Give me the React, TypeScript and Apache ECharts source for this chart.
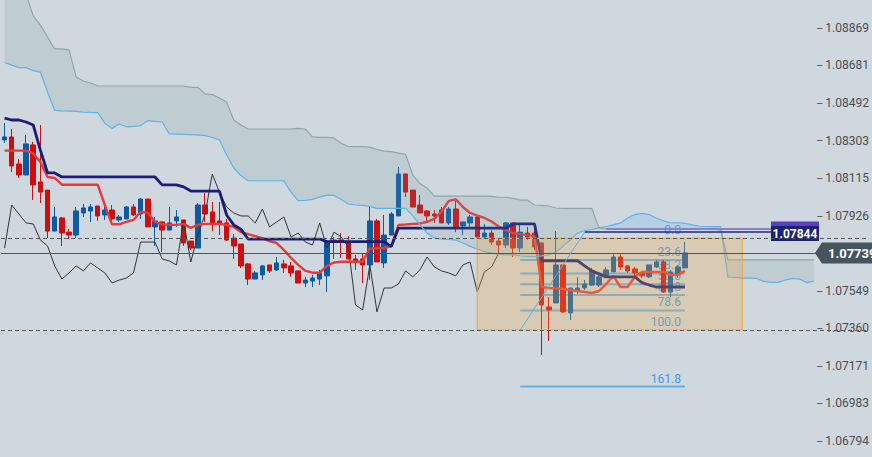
import React, { useEffect, useRef } from "react";
import * as echarts from "echarts";

const OPEN = [
  1.08307, 1.08322, 1.08186, 1.08131, 1.08282, 1.08096, 1.08055, 1.07849, 1.07915, 1.07844,
  1.07829, 1.0794, 1.0795, 1.07975, 1.0793, 1.07955, 1.07905, 1.0791, 1.0797, 1.07935,
  1.0801, 1.0787, 1.07895, 1.07854, 1.079, 1.07905, 1.07799, 1.07764, 1.0798, 1.07945,
  1.079, 1.0789, 1.07814, 1.07784, 1.07684, 1.07608, 1.07629, 1.07679, 1.07654, 1.07684,
  1.07674, 1.07649, 1.07588, 1.07598, 1.07608, 1.07624, 1.07804, 1.07804, 1.07789, 1.07709,
  1.07709, 1.07679, 1.079, 1.07689, 1.07829, 1.07925, 1.08136, 1.08055, 1.0798, 1.0795,
  1.07935, 1.07955, 1.0789, 1.0796, 1.07875, 1.0789, 1.0792, 1.07819, 1.07839, 1.07799,
  1.07779, 1.0789, 1.07764, 1.07839, 1.07839, 1.07789, 1.07468, 1.07488, 1.07679, 1.07438,
  1.07548, 1.07563, 1.07578, 1.07578, 1.07619, 1.07644, 1.07719, 1.07674, 1.07659, 1.07639,
  1.07619, 1.07669, 1.07694, 1.07543, 1.07629, 1.07664,
];
const CLOSE = [
  1.08322, 1.08176, 1.08131, 1.08287, 1.08081, 1.08045, 1.07849, 1.0792, 1.07839, 1.07829,
  1.0795, 1.07965, 1.0797, 1.07925, 1.07955, 1.0791, 1.0792, 1.0797, 1.0793, 1.0801,
  1.0787, 1.079, 1.07854, 1.0789, 1.0792, 1.07789, 1.07764, 1.0798, 1.07935, 1.0789,
  1.07885, 1.07804, 1.07774, 1.07674, 1.07608, 1.07639, 1.07674, 1.07649, 1.07689, 1.07664,
  1.07639, 1.07588, 1.07603, 1.07613, 1.07639, 1.07794, 1.07794, 1.07794, 1.07709, 1.07699,
  1.07679, 1.079, 1.07694, 1.07829, 1.07935, 1.08136, 1.08045, 1.0797, 1.0794, 1.07925,
  1.07925, 1.0789, 1.0796, 1.0787, 1.07895, 1.0792, 1.07819, 1.07839, 1.07794, 1.07779,
  1.0789, 1.07764, 1.07844, 1.07819, 1.07769, 1.07478, 1.07453, 1.07679, 1.07443, 1.07563,
  1.07563, 1.07583, 1.07649, 1.07619, 1.07654, 1.07719, 1.07669, 1.07649, 1.07639, 1.07624,
  1.07679, 1.07694, 1.07543, 1.07644, 1.07669, 1.07739,
];
const LOW = [
  1.08292, 1.08146, 1.08116, 1.08131, 1.08005, 1.0799, 1.07814, 1.07849, 1.07774, 1.07809,
  1.07814, 1.0792, 1.07895, 1.079, 1.07905, 1.0789, 1.07895, 1.0791, 1.07925, 1.0791,
  1.0787, 1.07774, 1.07744, 1.07854, 1.0787, 1.07774, 1.07754, 1.07764, 1.07895, 1.07849,
  1.07829, 1.07799, 1.07709, 1.07664, 1.07578, 1.07608, 1.07603, 1.07639, 1.07649, 1.07639,
  1.07619, 1.07588, 1.07568, 1.07568, 1.07578, 1.07543, 1.07709, 1.07714, 1.07709, 1.07654,
  1.07588, 1.07603, 1.07694, 1.07664, 1.07829, 1.07925, 1.0802, 1.0797, 1.0794, 1.079,
  1.0789, 1.0789, 1.0788, 1.07844, 1.07829, 1.0787, 1.07819, 1.07814, 1.07779, 1.07729,
  1.07764, 1.07719, 1.07744, 1.07804, 1.07754, 1.07227, 1.07297, 1.07488, 1.07438, 1.07402,
  1.07533, 1.07553, 1.07573, 1.07568, 1.07613, 1.07644, 1.07654, 1.07639, 1.07624, 1.07613,
  1.07613, 1.07664, 1.07538, 1.07518, 1.07613, 1.07664,
];
const HIGH = [
  1.08392, 1.08362, 1.08211, 1.08332, 1.08297, 1.08382, 1.08055, 1.0797, 1.0792, 1.07859,
  1.0797, 1.07985, 1.07985, 1.07975, 1.0798, 1.0798, 1.0793, 1.07975, 1.07985, 1.08015,
  1.0801, 1.0792, 1.07895, 1.0797, 1.07955, 1.07905, 1.07799, 1.0799, 1.0804, 1.07995,
  1.07995, 1.0791, 1.07834, 1.07784, 1.07689, 1.07649, 1.07679, 1.07679, 1.07719, 1.07704,
  1.07694, 1.07649, 1.07619, 1.07629, 1.07654, 1.07804, 1.07819, 1.07839, 1.07824, 1.07729,
  1.07734, 1.0797, 1.0791, 1.0793, 1.07945, 1.08171, 1.08136, 1.08055, 1.0803, 1.07955,
  1.07955, 1.0797, 1.0797, 1.08005, 1.07895, 1.0793, 1.0792, 1.07885, 1.07854, 1.07814,
  1.07895, 1.0789, 1.0789, 1.0787, 1.07865, 1.07794, 1.07518, 1.07849, 1.07679, 1.07563,
  1.07619, 1.07603, 1.07664, 1.07629, 1.07669, 1.07734, 1.07734, 1.07679, 1.07669, 1.07644,
  1.07679, 1.07704, 1.07704, 1.07654, 1.07679, 1.07794,
];
const TENKAN = [
  1.08253, 1.08253, 1.08253, 1.08253, 1.08239, 1.08196, 1.08121, 1.08116, 1.08082, 1.08082,
  1.08082, 1.08082, 1.08082, 1.08082, 1.0798, 1.07883, 1.07883, 1.07895, 1.07905, 1.07946,
  1.0794, 1.07895, 1.07883, 1.0788, 1.0788, 1.07885, 1.07865, 1.0788, 1.07885, 1.07885,
  1.07885, 1.0788, 1.0787, 1.07844, 1.07834, 1.07824, 1.07814, 1.07799, 1.07789, 1.07754,
  1.07714, 1.07679, 1.07649, 1.0764, 1.0764, 1.07674, 1.07691, 1.07695, 1.07695, 1.07695,
  1.07695, 1.07762, 1.07762, 1.07764, 1.07774, 1.0788, 1.07882, 1.07885, 1.07887, 1.07895,
  1.0791, 1.07945, 1.08, 1.08008, 1.0797, 1.0794, 1.07927, 1.07915, 1.07897, 1.07872,
  1.07854, 1.07839, 1.07834, 1.07829, 1.07824, 1.07568, 1.07563, 1.07561, 1.07558, 1.07553,
  1.07548, 1.07543, 1.07538, 1.07548, 1.07583, 1.07624, 1.07568, 1.07568, 1.07619, 1.07644,
  1.07644, 1.07644, 1.07644, 1.07629, 1.07629, 1.07649,
];
const KIJUN = [
  1.08417, 1.08407, 1.08407, 1.08397, 1.08382, 1.08256, 1.08141, 1.08141, 1.08121, 1.08121,
  1.08121, 1.08121, 1.08121, 1.08121, 1.08121, 1.08121, 1.08121, 1.08121, 1.08121, 1.08121,
  1.08121, 1.08121, 1.08081, 1.08081, 1.08081, 1.08071, 1.0805, 1.0805, 1.0805, 1.0805,
  1.0805, 1.0793, 1.0788, 1.07859, 1.07809, 1.07809, 1.07809, 1.07809, 1.07809, 1.07809,
  1.07809, 1.07809, 1.07809, 1.07809, 1.07809, 1.07796, 1.07796, 1.07796, 1.07796, 1.07796,
  1.07796, 1.07796, 1.07796, 1.07796, 1.07771, 1.07864, 1.07864, 1.07864, 1.07864, 1.07864,
  1.07864, 1.07864, 1.07864, 1.07864, 1.07864, 1.07864, 1.07864, 1.07864, 1.07864, 1.07864,
  1.07864, 1.07885, 1.07885, 1.07885, 1.07885, 1.077, 1.077, 1.077, 1.077, 1.077,
  1.077, 1.07674, 1.07649, 1.07634, 1.07619, 1.07619, 1.07619, 1.07619, 1.07619, 1.0759,
  1.07578, 1.07568, 1.07568, 1.07568, 1.07568, 1.07568,
];
const SPAN_A = [
  1.08696, 1.08683, 1.0867, 1.0867, 1.08655, 1.08648, 1.08548, 1.08455, 1.08453, 1.08452,
  1.0845, 1.08447, 1.08445, 1.08444, 1.08391, 1.08365, 1.08387, 1.08373, 1.08375, 1.08379,
  1.08404, 1.084, 1.08397, 1.08337, 1.08336, 1.08335, 1.08334, 1.08332, 1.08329, 1.08319,
  1.08307, 1.08231, 1.08166, 1.08128, 1.08102, 1.08102, 1.08102, 1.08102, 1.08102, 1.08101,
  1.08045, 1.08002, 1.08003, 1.08008, 1.0802, 1.0803, 1.08028, 1.08008, 1.07985, 1.0798,
  1.07978, 1.07973, 1.07963, 1.07963, 1.07963, 1.07963, 1.07963, 1.07925, 1.0788, 1.07839,
  1.07814, 1.07809, 1.07807, 1.07804, 1.07789, 1.07772, 1.07759, 1.07746, 1.07739, 1.07732,
  1.07729, 1.07729, 1.07724, 1.07721, 1.07721, 1.07724, 1.07729, 1.07744, 1.07774, 1.07804,
  1.07839, 1.07852, 1.07857, 1.07865, 1.07872, 1.0788, 1.0789, 1.07915, 1.07932, 1.07938,
  1.07932, 1.07915, 1.079, 1.07891, 1.07891, 1.07888, 1.0788, 1.07873, 1.07872, 1.07871,
  1.07871, 1.07618, 1.07616, 1.07613, 1.07613, 1.07611, 1.07596, 1.07591, 1.07591, 1.07603,
  1.07611, 1.07608, 1.0759, 1.07598,
];
const SPAN_B = [
  1.09311, 1.09236, 1.09151, 1.0904, 1.0893, 1.08884, 1.08824, 1.08764, 1.08764, 1.08759,
  1.08623, 1.08603, 1.08593, 1.08578, 1.08578, 1.08578, 1.08578, 1.08578, 1.08578, 1.08578,
  1.08578, 1.08578, 1.08578, 1.08578, 1.08578, 1.08578, 1.08571, 1.08571, 1.08538, 1.08535,
  1.08518, 1.08498, 1.08407, 1.08382, 1.08362, 1.08362, 1.08362, 1.08362, 1.08362, 1.08362,
  1.08362, 1.08365, 1.08362, 1.08322, 1.0832, 1.0832, 1.08317, 1.0829, 1.08274, 1.08273,
  1.08273, 1.08271, 1.08259, 1.08251, 1.08248, 1.08241, 1.08234, 1.08131, 1.08088, 1.08065,
  1.08025, 1.08025, 1.08025, 1.08025, 1.08025, 1.08025, 1.08025, 1.08025, 1.08023, 1.08019,
  1.08019, 1.08013, 1.08005, 1.08005, 1.0798, 1.07978, 1.07975, 1.07965, 1.07963, 1.07963,
  1.07963, 1.07963, 1.07963, 1.07863, 1.0786, 1.0786, 1.0786, 1.0786, 1.0786, 1.0786,
  1.0786, 1.0786, 1.0786, 1.0786, 1.0786, 1.0786, 1.0786, 1.0786, 1.0786, 1.0786,
  1.07854, 1.07704, 1.07704, 1.07704, 1.07704, 1.07704, 1.07704, 1.07704, 1.07704, 1.07704,
  1.07704, 1.07704, 1.07704, 1.07704,
];
const CHIKOU_SHIFT = 26;
const Y_TICKS = [
  1.06794, 1.06983, 1.07171, 1.0736, 1.07549, 1.07738, 1.07926, 1.08115, 1.08303, 1.08492,
  1.08681, 1.08869,
];
const Y_MIN = 1.06714;
const Y_MAX = 1.0901;

const FIB_0 = 1.07812;
const FIB_100 = 1.07352;
const FIB_RATIOS = [0, 0.236, 0.382, 0.5, 0.618, 0.786, 1, 1.618];
const FIB_LABELS = ["0.0", "23.6", "38.2", "50.0", "61.8", "78.6", "100.0", "161.8"];
const FIB_START = 72;
const FIB_END = 95;
const BOX_START = 66;
const BOX_END = 103;
const ORDER_PRICE = 1.07844;
const ORDER_PRICE_2 = 1.0786;
const ORDER_FROM = 81;
const ORDER_2_FROM = 84;
const ORDER_TO = 107;

// layout
const W = 872;
const H = 457;
const SLOTS = 121;
const SLOT_W = 7.175;
const GRID_LEFT = 1;
const AXIS_INSET = 50.2;
const BG = "#cfd8de";
const BLUE = "#0b5aa2";
const RED = "#d10d0d";

export default function App() {
  const ref = useRef<HTMLDivElement>(null);
  useEffect(() => {
    const el = ref.current!;
    const chart = echarts.init(el, null, { renderer: "svg" });
    const gridRight = W - GRID_LEFT - SLOTS * SLOT_W;
    const axisX = GRID_LEFT + SLOTS * SLOT_W - AXIS_INSET;
    const cats = Array.from({ length: SLOTS }, (_, i) => String(i));
    const candles = OPEN.map((o, i) => [o, CLOSE[i], LOW[i], HIGH[i]]);
    const chikou = CLOSE.slice(CHIKOU_SHIFT);
    const base = SPAN_A.map((a, i) => Math.min(a, SPAN_B[i]));
    const bear = SPAN_A.map((a, i) => Math.max(SPAN_B[i] - a, 0));
    const bull = SPAN_A.map((a, i) => Math.max(a - SPAN_B[i], 0));
    const lastPrice = CLOSE[CLOSE.length - 1];
    const fibPrice = (r: number) => FIB_0 - r * (FIB_0 - FIB_100);

    const option: any = {
      animation: false,
      backgroundColor: BG,
      textStyle: { fontFamily: "Roboto" },
      grid: { left: GRID_LEFT, right: gridRight, top: 0, bottom: 0 },
      xAxis: { type: "category", data: cats, show: false },
      yAxis: {
        type: "value",
        position: "right",
        offset: -AXIS_INSET,
        min: Y_MIN,
        max: Y_MAX,
        splitLine: { show: false },
        axisLine: { show: false },
        axisTick: { show: true, length: 5, lineStyle: { color: "#5a5a5a" }, customValues: Y_TICKS },
        axisLabel: {
          customValues: Y_TICKS,
          margin: 8,
          color: "#4d4d4d",
          fontSize: 12,
          fontFamily: "Roboto",
          formatter: (v: number) => v.toFixed(5),
        },
      },
      series: [
        {
          type: "custom",
          z: 1,
          clip: false,
          data: FIB_RATIOS.map((r) => [FIB_START, fibPrice(r)]),
          renderItem: (params: any, api: any) => {
            const k = params.dataIndex;
            const r = FIB_RATIOS[k];
            const p = api.value(1);
            const a = api.coord([FIB_START, p]);
            const b = api.coord([FIB_END, p]);
            const children: any[] = [];
            if (r !== 0 && r !== 1) {
              children.push({
                type: "line",
                shape: { x1: a[0], y1: a[1], x2: b[0], y2: b[1] },
                style: { stroke: "#5eb0ee", lineWidth: 2 },
              });
            }
            children.push({
              type: "text",
              x: b[0] - 4,
              y: b[1] - 2,
              style: {
                text: FIB_LABELS[k],
                fill: "#3d9ae5",
                font: "12px Roboto",
                align: "right",
                verticalAlign: "bottom",
              },
            });
            return { type: "group", children };
          },
        },
        {
          type: "candlestick",
          z: 2,
          barWidth: 5,
          data: candles,
          itemStyle: { color: BLUE, color0: RED, borderColor: BLUE, borderColor0: RED, borderWidth: 1 },
        },
        {
          type: "line",
          z: 3,
          data: chikou,
          symbol: "none",
          lineStyle: { color: "#2f363b", width: 1 },
        },
        {
          type: "line",
          z: 3,
          data: TENKAN,
          symbol: "none",
          lineStyle: { color: "#e8393b", width: 2.4 },
        },
        {
          type: "line",
          z: 3,
          data: KIJUN,
          symbol: "none",
          lineStyle: { color: "#1a1c78", width: 2.8 },
        },
        {
          type: "line",
          z: 4,
          stack: "cloud",
          data: base,
          symbol: "none",
          lineStyle: { opacity: 0 },
        },
        {
          type: "line",
          z: 4,
          stack: "cloud",
          data: bear,
          symbol: "none",
          lineStyle: { opacity: 0 },
          areaStyle: { color: "rgba(120,145,159,0.25)" },
        },
        {
          type: "line",
          z: 4,
          stack: "cloud",
          data: bull,
          symbol: "none",
          lineStyle: { opacity: 0 },
          areaStyle: { color: "rgba(110,187,236,0.4)" },
        },
        {
          type: "line",
          z: 5,
          data: SPAN_A,
          symbol: "none",
          lineStyle: { color: "#5db4e8", width: 1.2 },
        },
        {
          type: "line",
          z: 5,
          data: SPAN_B,
          symbol: "none",
          lineStyle: { color: "#93a4ae", width: 1.2 },
        },
        {
          type: "custom",
          z: 6,
          clip: false,
          data: [[BOX_START, FIB_0]],
          renderItem: (_params: any, api: any) => {
            const a = api.coord([BOX_START, FIB_0]);
            const b = api.coord([BOX_END, FIB_100]);
            return {
              type: "rect",
              shape: { x: a[0], y: a[1], width: b[0] - a[0], height: b[1] - a[1] },
              style: { fill: "rgba(245,170,70,0.28)", stroke: "#f2a846", lineWidth: 1.2 },
            };
          },
        },
        {
          type: "line",
          z: 8,
          data: [],
          markLine: {
            z: 8,
            silent: true,
            precision: 5,
            symbol: ["none", "none"],
            label: { show: false },
            data: [
              { yAxis: FIB_0, lineStyle: { color: "#4f5559", width: 1, type: [4, 3] } },
              { yAxis: FIB_100, lineStyle: { color: "#4f5559", width: 1, type: [4, 3] } },
              { yAxis: lastPrice, lineStyle: { color: "#4a565d", width: 1, type: "solid" } },
              [
                { coord: [ORDER_2_FROM, ORDER_PRICE_2], lineStyle: { color: "#8b7fcf", width: 2, type: "solid" } },
                { coord: [ORDER_TO, ORDER_PRICE_2] },
              ],
              [
                { coord: [ORDER_FROM, ORDER_PRICE], lineStyle: { color: "#262a7e", width: 1.5, type: "solid" } },
                { coord: [ORDER_TO, ORDER_PRICE] },
              ],
              [
                { coord: [FIB_START, FIB_100], lineStyle: { color: "#5aaee6", width: 1, type: "solid" } },
                { coord: [ORDER_FROM, ORDER_PRICE] },
              ],
            ],
          },
        },
      ],
    };
    chart.setOption(option);

    const yLast = chart.convertToPixel({ yAxisIndex: 0 }, lastPrice) as number;
    const yOrder = chart.convertToPixel({ yAxisIndex: 0 }, ORDER_PRICE) as number;
    const yOrder2 = chart.convertToPixel({ yAxisIndex: 0 }, ORDER_PRICE_2) as number;
    const tagW = 48;
    chart.setOption({
      graphic: [
        {
          type: "rect",
          z: 7,
          shape: { x: axisX - tagW, y: yOrder2 - 7.5, width: tagW, height: 14 },
          style: { fill: "#5b3fc0" },
        },
        {
          type: "rect",
          z: 7,
          shape: { x: axisX - tagW, y: yOrder - 6, width: tagW, height: 15 },
          style: { fill: "#1e2272" },
        },
        {
          type: "text",
          z: 7,
          x: axisX - tagW / 2,
          y: yOrder + 1.5,
          style: {
            text: ORDER_PRICE.toFixed(5),
            fill: "#ffffff",
            font: "bold 12px Roboto",
            align: "center",
            verticalAlign: "middle",
          },
        },
        {
          type: "polygon",
          z: 100,
          shape: {
            points: [
              [axisX - 4, yLast],
              [axisX + 3, yLast - 10.5],
              [W, yLast - 10.5],
              [W, yLast + 10.5],
              [axisX + 3, yLast + 10.5],
            ],
          },
          style: { fill: "#46545d" },
        },
        {
          type: "text",
          z: 101,
          x: axisX + 9,
          y: yLast + 0.5,
          style: {
            text: lastPrice.toFixed(5),
            fill: "#ffffff",
            font: "bold 13px Roboto",
            align: "left",
            verticalAlign: "middle",
          },
        },
      ],
    });
    return () => chart.dispose();
  }, []);
  return (
    <div
      ref={ref}
      style={{ position: "fixed", left: 0, top: 0, width: W, height: H, background: BG }}
    />
  );
}
